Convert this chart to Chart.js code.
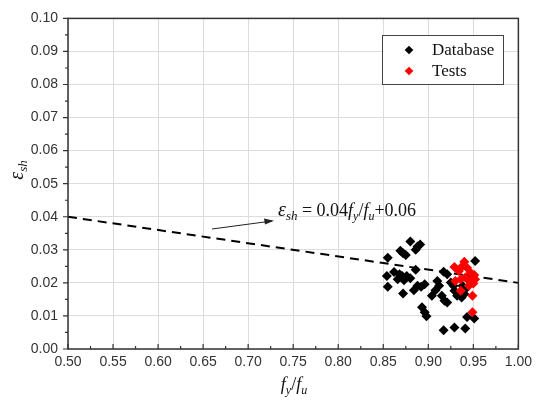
<!DOCTYPE html>
<html>
<head>
<meta charset="utf-8">
<script src="https://cdn.jsdelivr.net/npm/chart.js@4.4.1/dist/chart.umd.min.js"></script>
<style>
html, body { margin: 0; padding: 0; background: #fff; }
</style>
</head>
<body>
<canvas id="myChart" width="537" height="403"></canvas>
<script>
// tick labels
var xTicks = [0.50, 0.55, 0.60, 0.65, 0.70, 0.75, 0.80, 0.85, 0.90, 0.95, 1.00];
var yTicks = [0.00, 0.01, 0.02, 0.03, 0.04, 0.05, 0.06, 0.07, 0.08, 0.09, 0.10];

// Database series
var dbX = [0.880, 0.888, 0.891, 0.886, 0.869, 0.872, 0.875, 0.855, 0.886, 0.862,
           0.868, 0.871, 0.876, 0.880, 0.866, 0.854, 0.873, 0.855, 0.872, 0.888,
           0.892, 0.896, 0.884, 0.893, 0.896, 0.898, 0.910, 0.912, 0.908, 0.904,
           0.915, 0.918, 0.921, 0.917, 0.921, 0.925, 0.928, 0.929, 0.932, 0.937,
           0.940, 0.941, 0.938, 0.952, 0.943, 0.951, 0.917, 0.929, 0.941, 0.947,
           0.943];
var dbY = [0.0325, 0.0310, 0.0316, 0.0300, 0.0297, 0.0290, 0.0284, 0.0276, 0.0240, 0.0233,
           0.0226, 0.0221, 0.0221, 0.0214, 0.0211, 0.0221, 0.0208, 0.0188, 0.0168, 0.0191,
           0.0188, 0.0196, 0.0178, 0.0126, 0.0111, 0.0099, 0.0206, 0.0191, 0.0178, 0.0161,
           0.0161, 0.0146, 0.0141, 0.0234, 0.0226, 0.0201, 0.0191, 0.0176, 0.0161, 0.0156,
           0.0166, 0.0181, 0.0191, 0.0266, 0.0097, 0.0092, 0.0057, 0.0065, 0.0062, 0.0206,
           0.0214];

// Tests series
var testX = [0.940, 0.938, 0.929, 0.934, 0.943, 0.947, 0.951, 0.930, 0.936, 0.941,
             0.947, 0.952, 0.950, 0.945, 0.936, 0.949, 0.949];
var testY = [0.0264, 0.0251, 0.0248, 0.0236, 0.0246, 0.0231, 0.0224, 0.0206, 0.0211, 0.0216,
             0.0206, 0.0211, 0.0198, 0.0191, 0.0176, 0.0161, 0.0111];

// fitted line
var fitX = [0.50, 1.00];
var fitY = [0.04, 0.02];

function pts(xs, ys) {
    return xs.map(function (x, i) { return { x: x, y: ys[i] }; });
}

function diamond(ctx, x, y, r, color) {
    ctx.fillStyle = color;
    ctx.beginPath();
    ctx.moveTo(x - r, y);
    ctx.lineTo(x, y - r);
    ctx.lineTo(x + r, y);
    ctx.lineTo(x, y + r);
    ctx.closePath();
    ctx.fill();
}

// draw runs of text with italics / subscripts
function textRuns(ctx, runs, x, y) {
    runs.forEach(function (r) {
        ctx.font = (r.it ? 'italic ' : '') + r.size + 'px "Liberation Serif"';
        ctx.fillText(r.t, x, y + (r.dy || 0));
        x += ctx.measureText(r.t).width;
    });
    return x;
}

function runsWidth(ctx, runs) {
    var w = 0;
    runs.forEach(function (r) {
        ctx.font = (r.it ? 'italic ' : '') + r.size + 'px "Liberation Serif"';
        w += ctx.measureText(r.t).width;
    });
    return w;
}

var decor = {
    id: 'decor',
    afterDraw: function (chart) {
        var ctx = chart.ctx;
        var a = chart.chartArea;
        var xs = chart.scales.x, ys = chart.scales.y;
        ctx.save();

        // frame
        ctx.strokeStyle = '#333';
        ctx.lineWidth = 1.5;
        ctx.strokeRect(a.left, a.top, a.right - a.left, a.bottom - a.top);

        // x ticks (inward), y ticks (outward), with minor ticks
        ctx.lineWidth = 1.2;
        ctx.beginPath();
        for (var i = 0; i <= 20; i++) {
            var px = xs.getPixelForValue(0.5 + i * 0.025);
            var len = i % 2 === 0 ? 5 : 3;
            ctx.moveTo(px, a.bottom);
            ctx.lineTo(px, a.bottom - len);
        }
        for (var j = 0; j <= 20; j++) {
            var py = ys.getPixelForValue(j * 0.005);
            var l2 = j % 2 === 0 ? 5 : 3;
            ctx.moveTo(a.left, py);
            ctx.lineTo(a.left - l2, py);
        }
        ctx.stroke();

        // legend
        ctx.fillStyle = '#fff';
        ctx.fillRect(382, 35, 121, 49);
        ctx.strokeStyle = '#444';
        ctx.lineWidth = 1;
        ctx.strokeRect(382.5, 35.5, 121, 49);
        diamond(ctx, 409, 50, 4.3, '#000');
        diamond(ctx, 409, 71, 4.3, '#f00');
        ctx.fillStyle = '#111';
        ctx.textBaseline = 'alphabetic';
        ctx.font = '17px "Liberation Serif"';
        ctx.fillText('Database', 432, 55);
        ctx.fillText('Tests', 432, 76);

        // arrow
        ctx.strokeStyle = '#222';
        ctx.lineWidth = 1;
        ctx.beginPath();
        ctx.moveTo(212, 229);
        ctx.lineTo(272, 221);
        ctx.stroke();
        ctx.fillStyle = '#222';
        ctx.beginPath();
        ctx.moveTo(274, 220.7);
        ctx.lineTo(264, 218.5);
        ctx.lineTo(265, 224.5);
        ctx.closePath();
        ctx.fill();

        // equation
        ctx.fillStyle = '#111';
        textRuns(ctx, [
            { t: '\u03b5', size: 20, it: true },
            { t: 'sh', size: 13, it: true, dy: 4 },
            { t: ' = 0.04', size: 18 },
            { t: 'f', size: 18, it: true },
            { t: 'y', size: 12, it: true, dy: 4 },
            { t: '/', size: 18 },
            { t: 'f', size: 18, it: true },
            { t: 'u', size: 12, it: true, dy: 4 },
            { t: '+0.06', size: 18 }
        ], 278, 216);

        // x title
        var xr = [
            { t: 'f', size: 18, it: true },
            { t: 'y', size: 12, it: true, dy: 4 },
            { t: '/', size: 18 },
            { t: 'f', size: 18, it: true },
            { t: 'u', size: 12, it: true, dy: 4 }
        ];
        textRuns(ctx, xr, 294 - runsWidth(ctx, xr) / 2, 390);

        // y title
        var yr = [
            { t: '\u03b5', size: 20, it: true },
            { t: 'sh', size: 13, it: true, dy: 4 }
        ];
        ctx.translate(23, 170);
        ctx.rotate(-Math.PI / 2);
        textRuns(ctx, yr, -runsWidth(ctx, yr) / 2, 0);

        ctx.restore();
    }
};

var tickFont = { family: '"Liberation Sans", Arial, sans-serif', size: 14 };

var c = new Chart(document.getElementById('myChart'), {
    type: 'scatter',
    data: {
        datasets: [{
            label: 'Tests',
            data: pts(testX, testY),
            backgroundColor: '#f00',
            borderWidth: 0,
            pointStyle: 'rectRot',
            pointRadius: 5,
            order: 1
        }, {
            label: 'Database',
            data: pts(dbX, dbY),
            backgroundColor: '#000',
            borderWidth: 0,
            pointStyle: 'rectRot',
            pointRadius: 5,
            order: 2
        }, {
            label: 'fit',
            data: pts(fitX, fitY),
            showLine: true,
            borderColor: '#000',
            borderWidth: 2,
            borderDash: [9, 6],
            pointRadius: 0,
            order: 3
        }]
    },
    options: {
        responsive: false,
        animation: false,
        layout: { padding: { top: 13, right: 16, left: 0, bottom: 0 } },
        plugins: { legend: { display: false }, tooltip: { enabled: false } },
        scales: {
            x: {
                type: 'linear',
                min: 0.5,
                max: 1.0,
                afterBuildTicks: function (s) { s.ticks = xTicks.map(function (v) { return { value: v }; }); },
                afterFit: function (s) { s.height = 54; },
                ticks: {
                    callback: function (v) { return v.toFixed(2); },
                    font: tickFont,
                    color: '#333',
                    padding: 5,
                    maxRotation: 0,
                    autoSkip: false
                },
                grid: { color: '#dcdcdc', drawTicks: false },
                border: { display: false }
            },
            y: {
                type: 'linear',
                min: 0,
                max: 0.1,
                afterBuildTicks: function (s) { s.ticks = yTicks.map(function (v) { return { value: v }; }); },
                afterFit: function (s) { s.width = 68; },
                ticks: {
                    callback: function (v) { return v.toFixed(2); },
                    font: tickFont,
                    color: '#333',
                    padding: 10,
                    autoSkip: false
                },
                grid: { color: '#dcdcdc', drawTicks: false },
                border: { display: false }
            }
        }
    },
    plugins: [decor]
});
</script>
</body>
</html>
